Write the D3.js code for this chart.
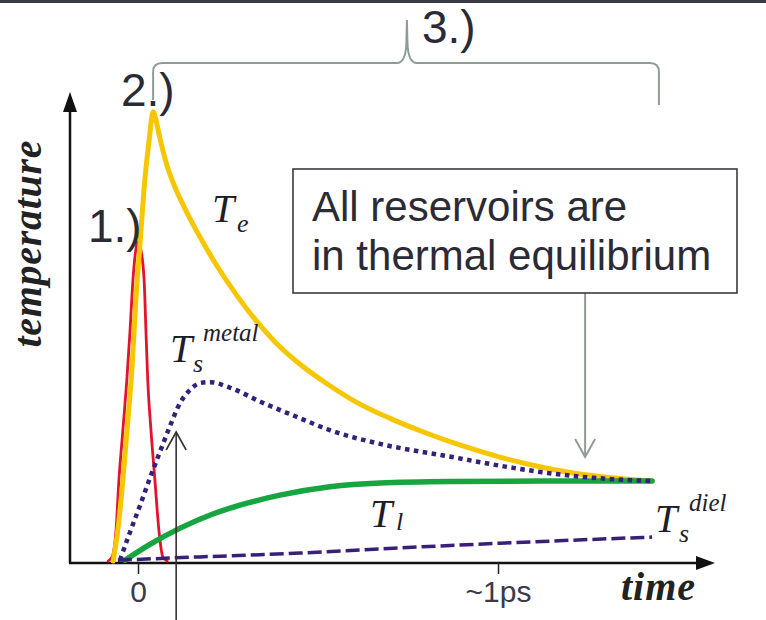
<!DOCTYPE html>
<html><head><meta charset="utf-8">
<script src="https://cdn.jsdelivr.net/npm/d3@7"></script>
<style>body{margin:0;background:#fff}svg{display:block}</style>
</head><body><svg id="c" width="766" height="620"></svg>
<script>
// ---- data (time in ps, temperature in arbitrary units) ----
const tickValues = [0, 1];
const tickLabels = ["0", "~1ps"];
const laserPulse = [[-0.083,0.4],[-0.072,1.3],[-0.061,7.0],[-0.053,17.6],[-0.042,28.2],[-0.031,38.9],[-0.022,49.5],[-0.014,60.1],[-0.006,66.5],[0,68.2],[0.008,66.5],[0.017,60.1],[0.022,49.5],[0.027,38.9],[0.036,28.2],[0.047,17.6],[0.058,7.0],[0.069,1.3],[0.081,0.4]];
const electronT = [[-0.069,0.4],[-0.056,7.0],[-0.042,17.6],[-0.028,30.4],[-0.017,41.0],[-0.006,55.8],[0.006,68.2],[0.019,81.3],[0.031,89.8],[0.042,95.8],[0.05,94.0],[0.06,90.5],[0.08,84.5],[0.10,80.3],[0.13,75.3],[0.17,69.5],[0.22,63.0],[0.27,57.3],[0.32,52.2],[0.38,47.0],[0.45,42.2],[0.53,37.8],[0.61,34.0],[0.70,30.7],[0.80,27.6],[0.90,24.9],[1.00,22.6],[1.10,20.7],[1.20,19.2],[1.30,18.2],[1.428,17.4]];
const spinMetalT = [[-0.05,0.6],[-0.022,6.6],[0.006,12.3],[0.033,18.0],[0.061,23.6],[0.089,29.1],[0.117,34.0],[0.144,36.7],[0.172,38.2],[0.2,38.4],[0.256,37.2],[0.347,34.0],[0.442,31.0],[0.533,28.2],[0.672,25.3],[0.858,22.7],[1.042,20.2],[1.181,18.7],[1.319,17.8],[1.428,17.4]];
const latticeT = [[-0.036,0.6],[0.025,3.6],[0.117,7.4],[0.208,10.4],[0.303,12.7],[0.394,14.4],[0.533,16.2],[0.672,17.0],[0.867,17.3],[1.144,17.4],[1.428,17.4]];
const spinDielT = [[-0.056,0.6],[0.172,1.3],[0.45,2.1],[0.672,3.0],[1.006,4.2],[1.428,5.5]];
const braceTimes = [0.042, 0.747, 1.447];   // start, centre, end of phase 3
const pumpArrowTime = 0.106;
const equilArrowTime = 1.242;

const svg = d3.select("#c");
const x = d3.scaleLinear().domain([0, 1]).range([138, 498]);
const y = d3.scaleLinear().domain([0, 100]).range([563, 92]);
const dark = "#2b2b35", sage = "#8e9d94";
const serif = "'Liberation Serif','DejaVu Serif',serif";
const sans = "'Liberation Sans',Arial,sans-serif";

// top frame line
svg.append("rect").attr("x",0).attr("y",0).attr("width",766).attr("height",3).attr("fill","#3a3a42");

// axes
const X0 = 70, Y0 = 563;
svg.append("line").attr("x1",X0).attr("y1",Y0).attr("x2",X0).attr("y2",108).attr("stroke","#111").attr("stroke-width",2.5);
svg.append("path").attr("d",`M${X0},92 L${X0-7},112 L${X0+7},112 Z`).attr("fill","#111");
svg.append("line").attr("x1",X0-1).attr("y1",Y0).attr("x2",700).attr("y2",Y0).attr("stroke","#111").attr("stroke-width",2.5);
svg.append("path").attr("d",`M715,${Y0} L696,${Y0-7} L696,${Y0+7} Z`).attr("fill","#111");

const ax = svg.append("g").attr("transform",`translate(0,${Y0})`)
  .call(d3.axisBottom(x).tickValues(tickValues).tickFormat((d,i)=>tickLabels[i]).tickSize(11));
ax.select(".domain").remove();
ax.selectAll(".tick line").attr("stroke","#222").attr("stroke-width",1.5);
ax.selectAll(".tick text").attr("y",39).attr("dy",0).attr("fill","#3a3a4a")
  .style("font-family",sans).style("font-size","30px");

// axis titles
svg.append("text").attr("transform","translate(41,244) rotate(-90)").attr("text-anchor","middle")
  .attr("textLength",207).attr("lengthAdjust","spacing")
  .style("font-family",serif).style("font-style","italic").style("font-weight","bold").style("font-size","40px")
  .attr("fill","#222").text("temperature");
svg.append("text").attr("x",621).attr("y",600).attr("textLength",74).attr("lengthAdjust","spacing")
  .style("font-family",serif).style("font-style","italic").style("font-weight","bold").style("font-size","40px")
  .attr("fill","#222").text("time");

// curves
const line = d3.line().x(d=>x(d[0])).y(d=>y(d[1])).curve(d3.curveMonotoneX);
function curve(data, color, w, dash){
  const p = svg.append("path").datum(data).attr("d",line).attr("fill","none")
    .attr("stroke",color).attr("stroke-width",w).attr("stroke-linecap", dash ? "butt" : "round");
  if (dash) p.attr("stroke-dasharray",dash);
}
curve(laserPulse, "#e2142d", 2.8);
curve(electronT, "#f6c700", 5);
curve(latticeT, "#17a540", 5.5);
curve(spinMetalT, "#35207a", 4.5, "4.5,4.5");
curve(spinDielT, "#3a1f78", 3.5, "14,5");

// arrows
function openArrow(xp, y1, y2, color, w){
  svg.append("line").attr("x1",xp).attr("y1",y1).attr("x2",xp).attr("y2",y2).attr("stroke",color).attr("stroke-width",w);
  const dir = y2 < y1 ? 1 : -1;
  svg.append("path").attr("d",`M${xp-10},${y2+dir*18} L${xp},${y2} L${xp+10},${y2+dir*18}`)
    .attr("fill","none").attr("stroke",color).attr("stroke-width",w);
}
openArrow(x(pumpArrowTime), 620, 432, "#333", 1.6);
openArrow(x(equilArrowTime), 293, 457, sage, 2);

// box
svg.append("rect").attr("x",293).attr("y",169).attr("width",444).attr("height",124)
  .attr("fill","#fff").attr("stroke","#3a3a42").attr("stroke-width",1.6);
svg.append("text").attr("x",312).attr("y",221).attr("fill",dark).style("font-family",sans).style("font-size","42px").text("All reservoirs are");
svg.append("text").attr("x",312).attr("y",270).attr("fill",dark).style("font-family",sans).style("font-size","42px").text("in thermal equilibrium");

// brace for phase 3
const bl = x(braceTimes[0]), bc = x(braceTimes[1]), br = x(braceTimes[2]);
svg.append("path").attr("d",
  `M${bl},100 L${bl},72 Q${bl},63 ${bl+9},63 L${bc-10},63 Q${bc-1},63 ${bc-0.5},42 L${bc},20 L${bc+0.5},42 Q${bc+1},63 ${bc+10},63 L${br-9},63 Q${br},63 ${br},72 L${br},105`)
  .attr("fill","none").attr("stroke",sage).attr("stroke-width",2);

// phase labels
const phase = [["1.)",88,242],["2.)",121,106],["3.)",422,43]];
svg.selectAll(".ph").data(phase).enter().append("text").attr("x",d=>d[1]).attr("y",d=>d[2])
  .attr("fill",dark).style("font-family",sans).style("font-size","46px").text(d=>d[0]);

// curve labels
function tlabel(xp, yb, sub, sup, subdx, subdy, supdx, supdy){
  const g = svg.append("g").attr("fill","#1e1e28").style("font-family",serif).style("font-style","italic");
  g.append("text").attr("x",xp).attr("y",yb).style("font-size","40px").text("T");
  g.append("text").attr("x",xp+subdx).attr("y",yb+subdy).style("font-size","26px").text(sub);
  if (sup) g.append("text").attr("x",xp+supdx).attr("y",yb+supdy).style("font-size","25px").text(sup);
}
tlabel(212, 222, "e", null, 25, 10);
tlabel(170, 362, "s", "metal", 23, 10, 33, -21);
tlabel(370, 527, "l", null, 26, 3);
tlabel(655, 532, "s", "diel", 24, 10, 34, -21);
</script></body></html>
